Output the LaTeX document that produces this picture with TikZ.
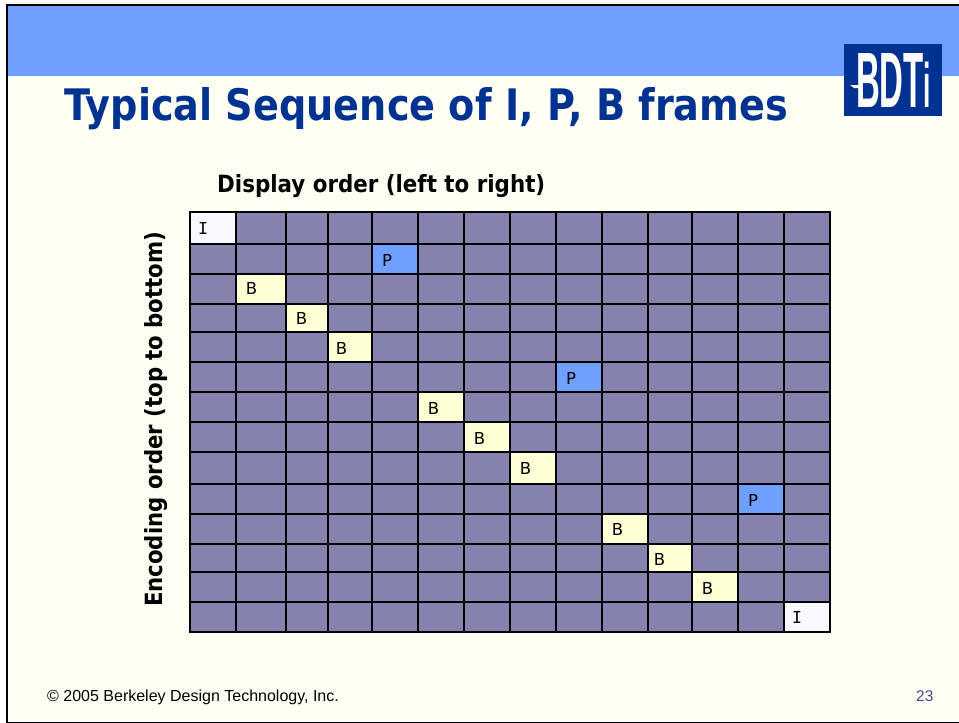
\documentclass[tikz,border=0pt]{standalone}
\usepackage{fontspec}
\setmainfont{DejaVu Sans}
\newfontfamily\footfont{Liberation Sans}
\newfontfamily\serifI{DejaVu Sans Mono}
\definecolor{bgcream}{RGB}{255,255,243}
\definecolor{bandblue}{RGB}{112,160,255}
\definecolor{navy}{RGB}{0,51,145}
\definecolor{cellgrey}{RGB}{133,131,174}
\definecolor{cellB}{RGB}{255,255,213}
\definecolor{cellI}{RGB}{248,248,255}
\definecolor{pagenum}{RGB}{74,74,138}
\newcommand{\fitbox}[3]{\resizebox{#1pt}{#2pt}{#3}}
\tikzset{
  x=1pt,y=-1pt,
  lab/.style={inner sep=0pt,text=black,font=\fontsize{16.5}{16.5}\selectfont,anchor=base},
  fit text/.style={inner sep=0pt,anchor=base west},
  cellline/.style={line width=1.9pt,black},
}
\begin{document}
\begin{tikzpicture}
\useasboundingbox (0,0) rectangle (959,723);
\fill[white] (0,0) rectangle (959,723);
\fill[bgcream] (8,6) rectangle (959,722);
\fill[bandblue] (8,6) rectangle (959,76);
\fill[black] (6,4) rectangle (959,6);
\fill[black] (6,4) rectangle (8,723);
\fill[black] (6,721.5) rectangle (959,723);
% logo
\fill[navy] (844,44) rectangle (942,116);
\node[inner sep=0pt,anchor=base west,text=white] (logo) at (856,107) {\footfont\bfseries\resizebox{75pt}{54pt}{BDT{\fontsize{8}{8}\selectfont i}}};
\fill[white] (850,85) -- (862,85) -- (862,88) -- (854,88) -- cycle;
% title
\node[fit text,text=navy] (title) at (64,120) {\fitbox{724}{33}{\bfseries Typical Sequence of I, P, B frames}};
\node[fit text,text=black] (xlabel) at (217,192) {\fitbox{328}{18}{\bfseries Display order (left to right)}};
\node[inner sep=0pt,anchor=base west,rotate=90,text=black] (ylabel) at (162.5,607) {\fitbox{375}{18}{\bfseries Encoding order (top to bottom)}};
% grid
\fill[cellgrey] (190,211.7) rectangle (830,632);
\fill[cellI] (190,211.7) rectangle (235.7,243.7);
\fill[bandblue] (371.7,243.7) rectangle (418,273.7);
\fill[cellB] (235.7,273.7) rectangle (285.7,303.7);
\fill[cellB] (285.7,303.7) rectangle (327.7,331.7);
\fill[cellB] (327.7,331.7) rectangle (371.7,361.7);
\fill[bandblue] (556,361.7) rectangle (602,392);
\fill[cellB] (418,392) rectangle (463.7,422);
\fill[cellB] (463.7,422) rectangle (510,452);
\fill[cellB] (510,452) rectangle (556,484);
\fill[bandblue] (738,484) rectangle (784,514);
\fill[cellB] (602,514) rectangle (648,544);
\fill[cellB] (648,544) rectangle (692,572);
\fill[cellB] (692,572) rectangle (738,602);
\fill[cellI] (784,602) rectangle (830,632);
\foreach \gx in {190,235.7,285.7,327.7,371.7,418,463.7,510,556,602,648,692,738,784,830}
  \draw[cellline] (\gx,210.75) -- (\gx,632.95);
\foreach \gy in {211.7,243.7,273.7,303.7,331.7,361.7,392,422,452,484,514,544,572,602,632}
  \draw[cellline] (189.05,\gy) -- (830.95,\gy);
% labels
\node[lab] (i1) at (203,234) {\serifI I};
\node[lab] (p1) at (387,266) {P};
\node[lab] (b1) at (251.5,294) {B};
\node[lab] (b2) at (301.5,324) {B};
\node[lab] (b3) at (341.5,354) {B};
\node[lab] (p2) at (571,384) {P};
\node[lab] (b4) at (433.5,414) {B};
\node[lab] (b5) at (479.5,444) {B};
\node[lab] (b6) at (525.5,474) {B};
\node[lab] (p3) at (753,506) {P};
\node[lab] (b7) at (617.5,535) {B};
\node[lab] (b8) at (659.5,565) {B};
\node[lab] (b9) at (707.5,594) {B};
\node[lab] (i2) at (797,623.5) {\serifI I};
% footer
\node[fit text,text=black] (copy) at (47,701) {\footfont\fontsize{16}{16}\selectfont © 2005 Berkeley Design Technology, Inc.};
\node[fit text,text=pagenum] (num) at (916,701) {\footfont\fontsize{15.5}{15.5}\selectfont 23};
\end{tikzpicture}
\end{document}
